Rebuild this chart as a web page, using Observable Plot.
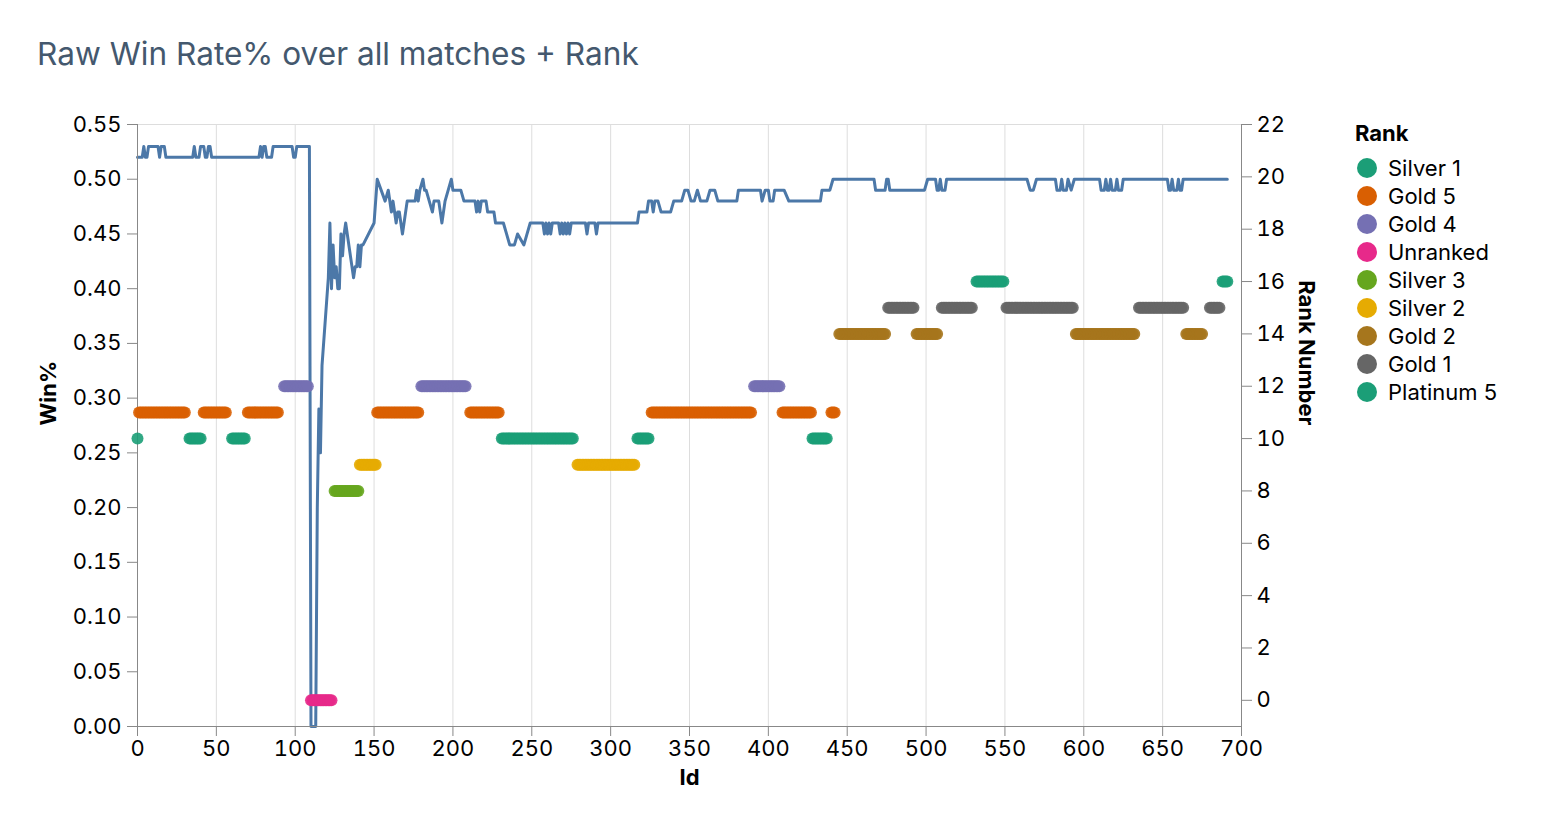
<!DOCTYPE html>
<html>
<head>
<meta charset="utf-8">
<script src="https://cdn.jsdelivr.net/npm/d3@7"></script>
<script src="https://cdn.jsdelivr.net/npm/@observablehq/plot@0.6"></script>
<style>
  html, body { margin: 0; padding: 0; background: #fff; overflow: hidden; }
  #wrap { position: relative; width: 1552px; height: 828px; font-family: Inter, "Noto Sans", sans-serif; }
  #wrap svg { position: absolute; left: 0; top: 0; max-width: none; }
  #title { position: absolute; left: 37px; top: 35px; font-size: 31.6px; line-height: 38px; color: #44586e; white-space: nowrap; }
  .leg { position: absolute; left: 1355px; font-size: 22px; line-height: 28px; color: #000; white-space: nowrap; display: flex; align-items: center; }
  .leg .sw { width: 20px; height: 20px; border-radius: 50%; margin-left: 2px; margin-right: 11px; }
</style>
</head>
<body>
<div id="wrap"><div id="title">Raw Win Rate% over all matches + Rank</div></div>
<script>
// ---- Win rate line (vertices) ----
const lineIds = [0,3,4,5,6,7,13,14,15,17,18,35,36,37,39,40,42,43,44,45,46,47,77,78,79,80,81,82,85,86,98,99,100,101,109,
  110,113,114,115,116,117,121,122,123,124,125,126,127,128,129,130,131,132,133,135,137,138,139,140,141,142,143,150,
  152,157,159,161,162,163,164,165,166,168,171,176,177,178,179,181,182,183,185,187,188,191,193,195,197,199,200,205,207,
  214,215,216,217,218,221,222,226,227,232,234,236,239,241,245,247,249,257,258,259,260,261,262,263,267,268,269,270,271,
  272,273,274,275,284,285,286,290,291,292,317,318,323,324,326,327,328,330,332,338,340,345,347,349,351,353,355,357,361,
  363,366,368,380,381,395,396,398,400,401,403,404,410,413,433,434,439,441,467,468,474,475,476,477,499,501,506,507,508,
  509,510,512,513,564,566,568,570,582,583,585,586,587,589,590,592,594,610,611,613,614,615,616,617,618,620,621,622,624,
  625,653,654,655,656,657,659,660,661,662,663,691];
const lineWin = [.52,.52,.53,.52,.52,.53,.53,.52,.53,.53,.52,.52,.53,.52,.52,.53,.53,.52,.52,.53,.53,.52,.52,.53,.52,.53,.53,.52,.52,.53,.53,.52,.52,.53,.53,
  0,0,.20,.29,.25,.33,.41,.46,.40,.44,.41,.42,.40,.40,.45,.43,.45,.46,.45,.43,.41,.42,.42,.44,.42,.44,.44,.46,
  .50,.48,.49,.47,.48,.47,.46,.47,.47,.45,.48,.48,.49,.48,.49,.50,.49,.49,.48,.47,.48,.48,.46,.48,.49,.50,.49,.49,.48,
  .48,.47,.48,.47,.48,.48,.47,.47,.46,.46,.45,.44,.44,.45,.44,.45,.46,.46,.45,.46,.45,.46,.45,.46,.46,.45,.46,.45,.46,
  .45,.46,.45,.46,.46,.45,.46,.46,.45,.46,.46,.47,.47,.48,.48,.47,.48,.48,.47,.47,.48,.48,.49,.49,.48,.48,.49,.48,.48,
  .49,.49,.48,.48,.49,.49,.48,.49,.49,.48,.48,.49,.49,.48,.48,.49,.49,.50,.50,.49,.49,.50,.50,.49,.49,.50,.50,.49,.49,
  .50,.49,.49,.50,.50,.49,.49,.50,.50,.49,.49,.50,.49,.49,.50,.49,.50,.50,.49,.49,.50,.49,.49,.50,.49,.49,.50,.49,.49,
  .50,.50,.49,.49,.50,.49,.49,.50,.49,.49,.50,.50];

// ---- Rank categories ----
const rankNames   = ["Silver 1","Gold 5","Gold 4","Unranked","Silver 3","Silver 2","Gold 2","Gold 1","Platinum 5"];
const rankNumbers = [10, 11, 12, 0, 8, 9, 14, 15, 16];
const rankColors  = ["#1b9e77","#d95f02","#7570b3","#e7298a","#66a61e","#e6ab02","#a6761d","#666666","#1b9e77"];

// ---- Rank per match, as runs of consecutive ids ----
const runStart = [0,1,33,42,60,70,93,110,125,141,152,180,211,231,279,317,326,391,409,428,440,445,476,494,510,532,551,595,635,665,680,688];
const runEnd   = [0,30,40,56,68,89,108,123,140,151,178,208,229,276,315,324,389,407,427,437,442,474,492,507,529,549,593,632,663,675,686,691];
const runRank  = ["Silver 1","Gold 5","Silver 1","Gold 5","Silver 1","Gold 5","Gold 4","Unranked","Silver 3","Silver 2","Gold 5","Gold 4","Gold 5",
  "Silver 1","Silver 2","Silver 1","Gold 5","Gold 4","Gold 5","Silver 1","Gold 5","Gold 2","Gold 1","Gold 2","Gold 1","Platinum 5",
  "Gold 1","Gold 2","Gold 1","Gold 2","Gold 1","Platinum 5"];

// ---- Tick values ----
const xTicks = [0,50,100,150,200,250,300,350,400,450,500,550,600,650,700];
const winTicks = [0,0.05,0.10,0.15,0.20,0.25,0.30,0.35,0.40,0.45,0.50,0.55];
const rankTicks = [0,2,4,6,8,10,12,14,16,18,20,22];

// ---- Build tables ----
const lineData = lineIds.map((id, i) => ({id, win: lineWin[i]}));
const rankNum = new Map(rankNames.map((n, i) => [n, rankNumbers[i]]));
const dots = [];
runStart.forEach((s, i) => {
  for (let id = s; id <= runEnd[i]; id++) dots.push({id, rank: runRank[i], num: rankNum.get(runRank[i])});
});

const common = {
  width: 1552, height: 828,
  marginLeft: 137, marginRight: 311, marginTop: 124, marginBottom: 102,
  style: {fontFamily: "Inter, 'Noto Sans', sans-serif", fontSize: "22px", color: "#000", background: "transparent"}
};

const chartA = Plot.plot({
  ...common,
  x: {domain: [0, 700]},
  y: {domain: [0, 0.55]},
  marks: [
    Plot.gridX(xTicks, {stroke: "#ddd", strokeOpacity: 1, strokeWidth: 1}),
    Plot.frame({stroke: "#ddd"}),
    Plot.line(lineData, {x: "id", y: "win", stroke: "#4c78a8", strokeWidth: 3, strokeLinejoin: "round"}),
    Plot.ruleX([0], {stroke: "#888"}),
    Plot.ruleY([0], {stroke: "#888"}),
    Plot.axisX({ticks: xTicks, tickSize: 10, tickPadding: 4, label: null, stroke: "#888", fill: "#000", fontSize: 22}),
    Plot.axisY({ticks: winTicks, tickFormat: d3.format(".2f"), tickSize: 10, tickPadding: 6, label: null, stroke: "#888", fill: "#000", fontSize: 22}),
    Plot.text(["Id"], {frameAnchor: "bottom", dy: 58, fontWeight: "bold", fontSize: 22, fill: "#000"}),
    Plot.text(["Win%"], {frameAnchor: "left", dx: -89, rotate: -90, fontWeight: "bold", fontSize: 22, fill: "#000"})
  ]
});

const chartB = Plot.plot({
  ...common,
  x: {domain: [0, 700], axis: null},
  y: {domain: [-1, 22]},
  color: {domain: rankNames, range: rankColors},
  marks: [
    Plot.dot(dots, {x: "id", y: "num", fill: "rank", r: 6, fillOpacity: 0.9, stroke: "none"}),
    Plot.ruleX([700], {stroke: "#888"}),
    Plot.axisY({anchor: "right", ticks: rankTicks, tickSize: 10, tickPadding: 5, label: null, stroke: "#888", fill: "#000", fontSize: 22}),
    Plot.text(["Rank Number"], {frameAnchor: "right", dx: 65, rotate: 90, fontWeight: "bold", fontSize: 22, fill: "#000"})
  ]
});

const wrap = document.getElementById("wrap");
wrap.appendChild(chartA);
wrap.appendChild(chartB);

// ---- Legend ----
const legTitle = document.createElement("div");
legTitle.className = "leg";
legTitle.style.top = "119px";
legTitle.style.fontWeight = "bold";
legTitle.textContent = "Rank";
wrap.appendChild(legTitle);
rankNames.forEach((name, i) => {
  const row = document.createElement("div");
  row.className = "leg";
  row.style.top = (154 + i * 28) + "px";
  const sw = document.createElement("span");
  sw.className = "sw";
  sw.style.background = rankColors[i];
  row.appendChild(sw);
  row.appendChild(document.createTextNode(name));
  wrap.appendChild(row);
});
</script>
</body>
</html>
